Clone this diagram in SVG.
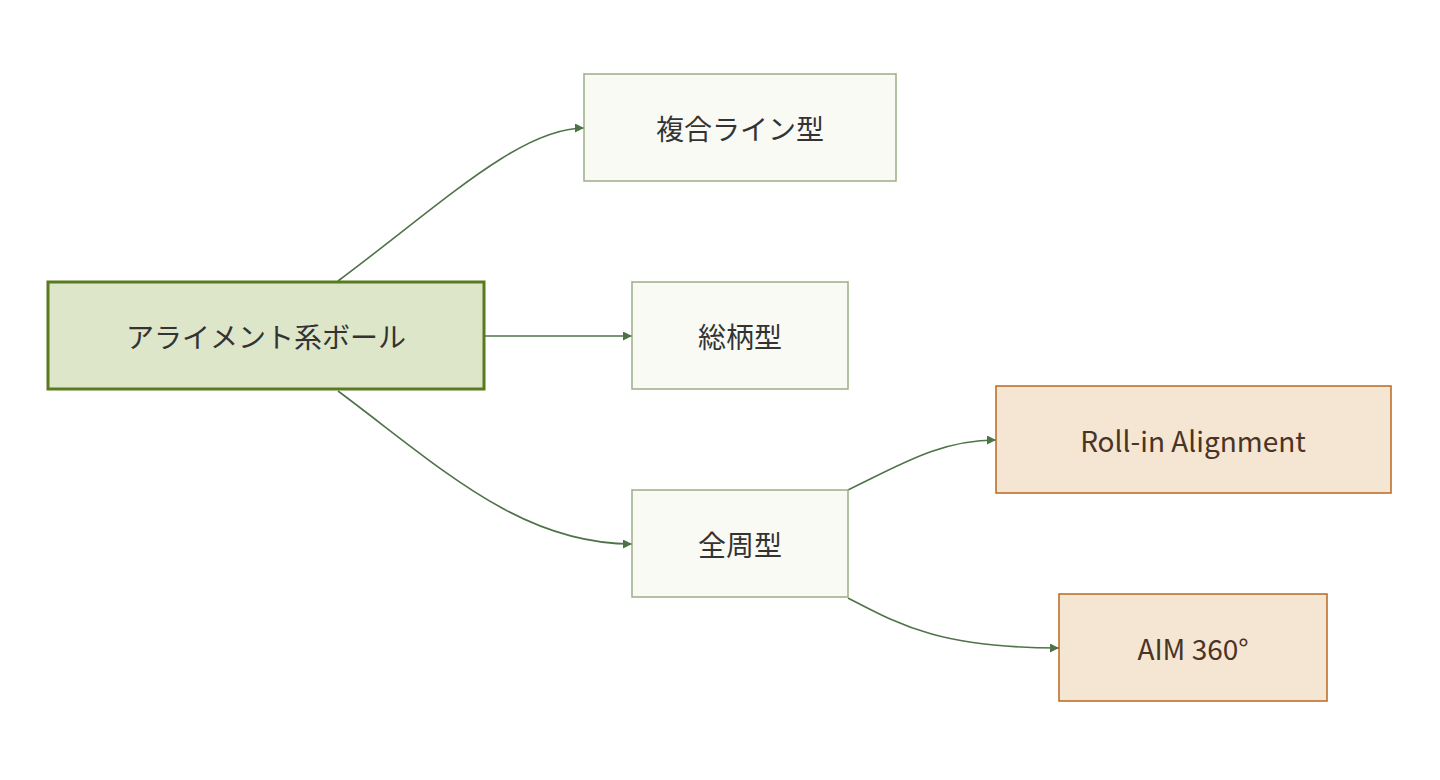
<svg xmlns="http://www.w3.org/2000/svg" width="1440" height="780" viewBox="0 0 1440 780">
<style>
.n{fill:#f9faf4;stroke:#9aae88;stroke-width:1.5}
.r{fill:#dde6c9;stroke:#5a7a1f;stroke-width:3}
.o{fill:#f5e5d3;stroke:#b8691f;stroke-width:1.5}
.t{font-family:"Noto Sans CJK JP","Noto Sans",sans-serif;font-size:28px;fill:#333;text-anchor:middle;dominant-baseline:central}
.to{fill:#4a3424}
.e{fill:none;stroke:#4f7348;stroke-width:1.6}
</style>
<defs><marker id="a" viewBox="0 0 10 10" refX="10" refY="5" markerWidth="9" markerHeight="9" markerUnits="userSpaceOnUse" orient="auto"><path d="M0,0L10,5L0,10z" fill="#4f7348"/></marker></defs>
<rect width="1440" height="780" fill="#fff"/>
<g id="edges">
<path class="e" marker-end="url(#a)" d="M338,281 C440,205 520,128 584,128"/>
<path class="e" marker-end="url(#a)" d="M484,336 L632,336"/>
<path class="e" marker-end="url(#a)" d="M338,391 C440,467 520,544 632,544"/>
<path class="e" marker-end="url(#a)" d="M848,490 C900,465 940,440 996,440"/>
<path class="e" marker-end="url(#a)" d="M848,598 C900,625 940,648 1059,648"/>
</g>
<g id="root"><rect class="r" x="48" y="282" width="436" height="107"/><text class="t" x="266" y="336">アライメント系ボール</text></g>
<g id="fukugo"><rect class="n" x="584" y="74" width="312" height="107"/><text class="t" x="740" y="128">複合ライン型</text></g>
<g id="sogara"><rect class="n" x="632" y="282" width="216" height="107"/><text class="t" x="740" y="336">総柄型</text></g>
<g id="zenshu"><rect class="n" x="632" y="490" width="216" height="107"/><text class="t" x="740" y="544">全周型</text></g>
<g id="rollin"><rect class="o" x="996" y="386" width="395" height="107"/><text class="t to" x="1193" y="440">Roll-in Alignment</text></g>
<g id="aim"><rect class="o" x="1059" y="594" width="268" height="107"/><text class="t to" x="1193" y="648">AIM 360°</text></g>
</svg>
